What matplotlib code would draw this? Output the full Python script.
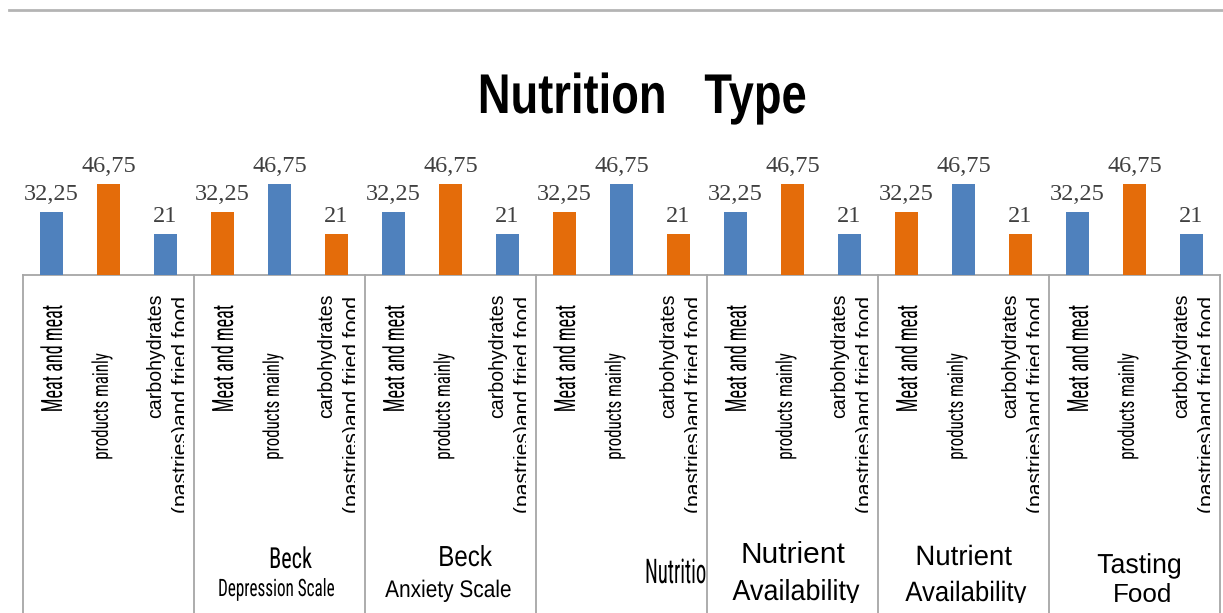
import os
import matplotlib
matplotlib.use('Agg')
import matplotlib.pyplot as plt
import numpy as np
from matplotlib import font_manager
from matplotlib.font_manager import FontProperties
from matplotlib.patches import Rectangle
from matplotlib.patheffects import AbstractPathEffect
from matplotlib.transforms import Affine2D

# values repeated in every scale group
values = [32.25, 46.75, 21]
value_labels = ["32,25", "46,75", "21"]
food_labels = ["Meat and meat", "products mainly", "carbohydrates",
               "(pastries)and fried food"]
group_lines = [[], ["Beck", "Depression Scale"], ["Beck", "Anxiety Scale"],
               ["Nutrition"], ["Nutrient", "Availability"],
               ["Nutrient", "Availability"], ["Tasting", "Food"]]
title = "Nutrition   Type"

BLUE = '#4F81BD'
ORANGE = '#E46C0A'
GRID = '#A6A6A6'


def find_condensed():
    prefs = ['liberation sans narrow', 'arial narrow', 'roboto condensed',
             'open sans condensed', 'noto sans', 'dejavu sans']
    skip = ('semicondensed', 'extracondensed', 'ultracondensed', 'light',
            'thin', 'medium', 'semibold', 'bold', 'black', 'mono',
            'serif', 'italic', 'oblique')
    found = {}
    for f in font_manager.fontManager.ttflist:
        base = os.path.basename(f.fname).lower()
        tag = (f.name + ' ' + base).lower()
        if 'narrow' not in tag and 'condensed' not in tag:
            continue
        if f.style != 'normal' or any(s in base for s in skip):
            continue
        for i, p in enumerate(prefs):
            if f.name.lower().startswith(p):
                found.setdefault(i, f.fname)
                break
    return found[min(found)] if found else None


_n = find_condensed()
NARROW = FontProperties(fname=_n) if _n else FontProperties(family='Liberation Sans')
BOLD = FontProperties(family='Liberation Sans', weight='bold')
SANS = FontProperties(family='Liberation Sans')

W, H = 1223, 613
fig = plt.figure(figsize=(W / 100, H / 100), dpi=100)
renderer = fig.canvas.get_renderer()


class Squash(AbstractPathEffect):
    """Scale the glyph outlines about a fixed display point."""

    def __init__(self, sx, sy, anchor):
        super().__init__()
        self.sx, self.sy, self.anchor = sx, sy, anchor

    def draw_path(self, renderer, gc, tpath, affine, rgbFace=None):
        cx, cy = self.anchor
        tr = affine + Affine2D().translate(-cx, -cy).scale(self.sx, self.sy) \
            .translate(cx, cy)
        renderer.draw_path(gc, tpath, tr, rgbFace)


def fit(t, target):
    # scale the font so the text run is `target` pixels long
    bb = t.get_window_extent(renderer)
    length = bb.height if t.get_rotation() == 90 else bb.width
    t.set_fontsize(t.get_fontsize() * target / length)
    return t


def stretch(t, em_px, axis):
    # make the glyphs em_px tall across the reading direction
    f = em_px / (t.get_fontsize() * 100 / 72)
    anchor = t.get_transform().transform(t.get_position())
    sx, sy = (f, 1) if axis == 'x' else (1, f)
    t.set_path_effects([Squash(sx, sy, anchor)])
    return t


# overlay in pixel units for the frame, title and the label table
ov = fig.add_axes([0, 0, 1, 1])
ov.set_xlim(0, W)
ov.set_ylim(H, 0)
ov.axis('off')

left, right, base, top = 23, 1220, 275, 10
gw = (right - left) / len(group_lines)
px_per_unit = 1.955

ax = fig.add_axes([left / W, 1 - base / H, (right - left) / W, (base - top) / H])
n = len(group_lines) * len(values)
xs = np.arange(n)
heights = np.tile(values, len(group_lines))
labels = value_labels * len(group_lines)
colors = [BLUE if k % 2 == 0 else ORANGE for k in xs]
ax.bar(xs, heights, width=0.41, color=colors, zorder=3)
for x, h, lab in zip(xs, heights, labels):
    ax.annotate(lab, (x, h), xytext=(0, 12), textcoords='offset pixels',
                ha='center', va='baseline', fontsize=17.5,
                family='Liberation Serif', color='#404040')
ax.set_xlim(-0.5, n - 0.5)
ax.set_ylim(0, (base - top) / px_per_unit)
ax.axis('off')

# frame lines
ov.plot([9, W], [10, 10], color='#B4B4B4', lw=2)
ov.plot([left, right], [base, base], color=GRID, lw=1.3, zorder=4)
for g in range(len(group_lines) + 1):
    gx = left + gw * g
    ov.plot([gx, gx], [base, H], color=GRID, lw=1.3, zorder=4)

t = fit(ov.text(642, 113, title, ha='center', va='baseline',
                fontproperties=BOLD, fontsize=34), 329)
stretch(t, 56, 'y')


def clipped(t, x0, y0, x1, y1):
    r = Rectangle((x0, y0), x1 - x0, y1 - y0, transform=ov.transData)
    t.set_clip_path(r)
    t.set_clip_on(True)


for g in range(len(group_lines)):
    L = left + gw * g
    t = fit(ov.text(L + 31, 305, food_labels[0], rotation=90,
                    ha='center', va='top', fontproperties=NARROW,
                    fontsize=14), 108)
    stretch(t, 29, 'x')
    t = fit(ov.text(L + 79, 353, food_labels[1], rotation=90, ha='center',
                    va='top', fontproperties=NARROW, fontsize=14), 107)
    stretch(t, 22, 'x')
    fit(ov.text(L + 123, 294, food_labels[2], rotation=90, ha='left',
                va='top', fontproperties=SANS, fontsize=14), 125)
    fit(ov.text(L + 149, 296, food_labels[3], rotation=90, ha='left',
                va='top', fontproperties=SANS, fontsize=14), 219)
    # the second line is cut off by the cell edge
    ov.add_patch(Rectangle((L + 161, 285), 9.2, 250, facecolor='white',
                           edgecolor='none', zorder=3))

# group captions: (x, baseline, font, width in px, anchor, glyph em or None)
caption_style = {
    1: [(290.5, 568, NARROW, 43, 'center', 29),
        (276.5, 596, NARROW, 117, 'center', 24)],
    2: [(465, 566, SANS, 54, 'center', 29),
        (448.5, 597, SANS, 127, 'center', 24)],
    3: [(645, 583, NARROW, 61, 'left', 34)],
    4: [(792.5, 563, SANS, 105, 'center', None),
        (796, 600, SANS, 128, 'center', 29)],
    5: [(963.5, 565, SANS, 97, 'center', 28),
        (966, 601, SANS, 122, 'center', 28)],
    6: [(1139.5, 573, SANS, 85, 'center', 27.5),
        (1142.5, 602, SANS, 59, 'center', None)],
}
for g, lines in enumerate(group_lines):
    L = left + gw * g
    for line, (x, y, fp, width, ha, em) in zip(lines,
                                               caption_style.get(g, [])):
        # a clipped caption is sized on the part that shows
        shown = line[:-1] if ha == 'left' else line
        t = fit(ov.text(x, y, shown, ha=ha, va='baseline', fontproperties=fp,
                        fontsize=16), width)
        t.set_text(line)
        if em:
            stretch(t, em, 'y')
        clipped(t, L + 1, base, L + gw - 1.5, 602.5)

fig.savefig('out.png', dpi=100)
